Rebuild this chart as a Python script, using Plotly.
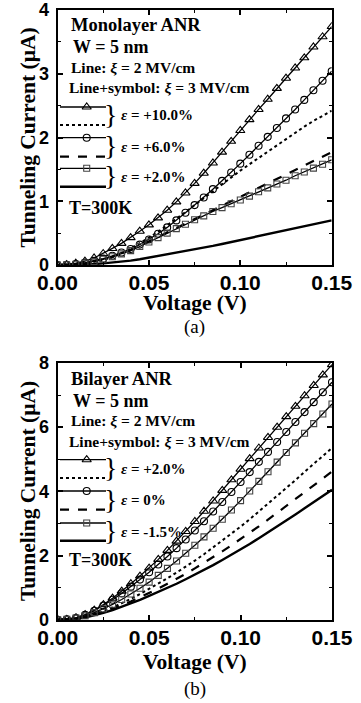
import plotly.graph_objects as go

# ---------------- data ----------------
voltage = [0.000, 0.005, 0.010, 0.015, 0.020, 0.025, 0.030, 0.035, 0.040, 0.045,
           0.050, 0.055, 0.060, 0.065, 0.070, 0.075, 0.080, 0.085, 0.090, 0.095,
           0.100, 0.105, 0.110, 0.115, 0.120, 0.125, 0.130, 0.135, 0.140, 0.145, 0.150]

# (a) Monolayer ANR, current in uA
mono_e10_f3 = [0.0, 0.005, 0.028, 0.06, 0.11, 0.18, 0.26, 0.34, 0.43, 0.53,
               0.63, 0.74, 0.86, 0.99, 1.13, 1.28, 1.44, 1.60, 1.77, 1.94,
               2.11, 2.28, 2.44, 2.60, 2.77, 2.93, 3.09, 3.25, 3.42, 3.58, 3.74]
mono_e10_f2 = [0.0, 0.002, 0.01, 0.025, 0.05, 0.08, 0.12, 0.18, 0.26, 0.34,
               0.43, 0.52, 0.62, 0.72, 0.83, 0.94, 1.05, 1.15, 1.26, 1.37,
               1.48, 1.58, 1.68, 1.78, 1.88, 1.98, 2.08, 2.17, 2.26, 2.34, 2.42]
mono_e6_f3 = [0.0, 0.003, 0.015, 0.035, 0.065, 0.10, 0.145, 0.195, 0.25, 0.32,
              0.40, 0.49, 0.59, 0.70, 0.82, 0.94, 1.06, 1.19, 1.32, 1.45,
              1.59, 1.73, 1.87, 2.01, 2.15, 2.30, 2.44, 2.59, 2.74, 2.89, 3.04]
mono_e6_f2 = [0.0, 0.003, 0.012, 0.03, 0.055, 0.09, 0.13, 0.18, 0.23, 0.30,
              0.37, 0.44, 0.52, 0.59, 0.66, 0.73, 0.80, 0.87, 0.94, 1.01,
              1.08, 1.15, 1.22, 1.29, 1.36, 1.43, 1.50, 1.57, 1.64, 1.70, 1.77]
mono_e2_f3 = [0.0, 0.003, 0.012, 0.03, 0.055, 0.09, 0.13, 0.175, 0.225, 0.29,
              0.36, 0.43, 0.50, 0.57, 0.64, 0.71, 0.77, 0.84, 0.90, 0.96,
              1.02, 1.08, 1.15, 1.21, 1.27, 1.33, 1.40, 1.46, 1.52, 1.58, 1.65]
mono_e2_f2 = [0.0, 0.001, 0.004, 0.008, 0.015, 0.025, 0.037, 0.05, 0.068, 0.09,
              0.115, 0.14, 0.165, 0.19, 0.215, 0.24, 0.27, 0.30, 0.33, 0.36,
              0.39, 0.42, 0.45, 0.48, 0.51, 0.55, 0.58, 0.61, 0.64, 0.67, 0.70]

# (b) Bilayer ANR, current in uA
bi_e2_f3 = [0.0, 0.01, 0.06, 0.16, 0.30, 0.47, 0.67, 0.89, 1.12, 1.36,
            1.61, 1.88, 2.16, 2.45, 2.75, 3.06, 3.38, 3.70, 4.03, 4.36,
            4.69, 5.02, 5.35, 5.68, 6.00, 6.33, 6.65, 6.98, 7.30, 7.63, 7.95]
bi_e2_f2 = [0.0, 0.01, 0.04, 0.09, 0.17, 0.27, 0.38, 0.51, 0.65, 0.80,
            0.96, 1.12, 1.29, 1.47, 1.65, 1.84, 2.04, 2.25, 2.46, 2.68,
            2.90, 3.13, 3.37, 3.61, 3.86, 4.11, 4.35, 4.61, 4.86, 5.11, 5.35]
bi_e0_f3 = [0.0, 0.01, 0.055, 0.15, 0.28, 0.44, 0.62, 0.82, 1.03, 1.25,
            1.48, 1.72, 1.97, 2.23, 2.50, 2.78, 3.07, 3.37, 3.67, 3.98,
            4.29, 4.60, 4.92, 5.23, 5.54, 5.85, 6.16, 6.47, 6.78, 7.09, 7.40]
bi_e0_f2 = [0.0, 0.008, 0.033, 0.08, 0.15, 0.24, 0.34, 0.45, 0.57, 0.70,
            0.83, 0.97, 1.12, 1.27, 1.43, 1.60, 1.77, 1.95, 2.13, 2.32,
            2.51, 2.71, 2.91, 3.12, 3.33, 3.54, 3.76, 3.97, 4.19, 4.40, 4.62]
bi_em15_f3 = [0.0, 0.01, 0.05, 0.12, 0.22, 0.34, 0.48, 0.63, 0.80, 0.98,
              1.17, 1.38, 1.60, 1.83, 2.07, 2.32, 2.58, 2.85, 3.13, 3.42,
              3.71, 4.01, 4.31, 4.61, 4.91, 5.21, 5.51, 5.81, 6.11, 6.41, 6.72]
bi_em15_f2 = [0.0, 0.007, 0.03, 0.07, 0.13, 0.21, 0.30, 0.40, 0.51, 0.62,
              0.74, 0.86, 0.99, 1.12, 1.26, 1.40, 1.55, 1.70, 1.86, 2.02,
              2.19, 2.36, 2.54, 2.72, 2.91, 3.09, 3.28, 3.47, 3.66, 3.86, 4.05]

x_ticks = [0.0, 0.05, 0.10, 0.15]
x_ticktext = ["0.00", "0.05", "0.10", "0.15"]

mono_strain_labels = ["+10.0%", "+6.0%", "+2.0%"]
bi_strain_labels = ["+2.0%", "0%", "-1.5%"]

# ---------------- styling ----------------
W, H = 361, 703
SANS = "Liberation Sans, Arial, sans-serif"
SERIF = "Liberation Serif, Times New Roman, serif"


def px(x):
    return x / W


def py(y):
    return 1 - y / H


SYMBOL_STYLES = [
    dict(symbol="triangle-up-open", size=8, color="black"),
    dict(symbol="circle-open", size=7, color="black"),
    dict(symbol="square-open", size=6, color="#444"),
]
PLAIN_STYLES = [
    dict(dash="dot", width=2.0),
    dict(dash="dash", width=2.2),
    dict(dash="solid", width=2.4),
]

fig = go.Figure()


def add_panel(xa, ya, sym_series, plain_series):
    for s, st in zip(plain_series, PLAIN_STYLES):
        fig.add_trace(go.Scatter(
            x=voltage, y=s, mode="lines", xaxis=xa, yaxis=ya,
            line=dict(color="black", width=st["width"], dash=st["dash"]),
            showlegend=False, hoverinfo="skip"))
    for s, st in zip(sym_series, SYMBOL_STYLES):
        fig.add_trace(go.Scatter(
            x=voltage, y=s, mode="lines+markers", xaxis=xa, yaxis=ya,
            line=dict(color="black", width=1.3),
            marker=dict(symbol=st["symbol"], size=st["size"],
                        color=st["color"], line=dict(width=1.1, color=st["color"])),
            showlegend=False, hoverinfo="skip"))


add_panel("x", "y", [mono_e10_f3, mono_e6_f3, mono_e2_f3],
          [mono_e10_f2, mono_e6_f2, mono_e2_f2])
add_panel("x2", "y2", [bi_e2_f3, bi_e0_f3, bi_em15_f3],
          [bi_e2_f2, bi_e0_f2, bi_em15_f2])

# legend key drawn on a full-page overlay axis measured in pixels
KEY_X0, KEY_X1, KEY_XM = 60, 106, 86.7


def add_key(rows):
    for (y_sym, y_plain, _), sst, pst in zip(rows, SYMBOL_STYLES, PLAIN_STYLES):
        fig.add_trace(go.Scatter(
            x=[KEY_X0, KEY_X1], y=[y_sym, y_sym], mode="lines",
            xaxis="x3", yaxis="y3", line=dict(color="black", width=1.3),
            showlegend=False, hoverinfo="skip"))
        fig.add_trace(go.Scatter(
            x=[KEY_XM], y=[y_sym], mode="markers", xaxis="x3", yaxis="y3",
            marker=dict(symbol=sst["symbol"], size=sst["size"], color=sst["color"],
                        line=dict(width=1.1, color=sst["color"])),
            showlegend=False, hoverinfo="skip"))
        fig.add_trace(go.Scatter(
            x=[KEY_X0, KEY_X1], y=[y_plain, y_plain], mode="lines",
            xaxis="x3", yaxis="y3",
            line=dict(color="black", width=pst["width"], dash=pst["dash"]),
            showlegend=False, hoverinfo="skip"))


rows_a = [(107, 125, 115.5), (137.7, 156.7, 147), (168.3, 186.7, 177)]
rows_b = [(459.7, 478, 468.5), (491, 509.7, 500), (523, 540.7, 531.5)]
add_key(rows_a)
add_key(rows_b)

annotations = []


def text(x, y, s, size, family=SERIF, bold=True, xanchor="left", angle=0):
    annotations.append(dict(
        x=px(x), y=py(y), xref="paper", yref="paper", text=s, showarrow=False,
        xanchor=xanchor, yanchor="middle", textangle=angle,
        font=dict(family=family, size=size, color="black",
                  weight="bold" if bold else "normal")))


def panel_text(top, title, rows, labels, t_y):
    text(69, top + 15.5, title, 18.5)
    text(71, top + 37.5, "W = 5 nm", 18)
    text(69, top + 57, "Line: <i>ξ</i> = 2 MV/cm", 15.5)
    text(67, top + 78, "Line+symbol: <i>ξ</i> = 3 MV/cm", 15.5)
    for (_, _, yt), lab in zip(rows, labels):
        text(119, yt - 1, "}", 28, bold=False, xanchor="right")
        text(119, yt, "<i>ε</i> = " + lab, 15)
    text(67, t_y, "T=300K", 18)


panel_text(10, "Monolayer ANR", rows_a, mono_strain_labels, 208)
panel_text(363, "Bilayer ANR", rows_b, bi_strain_labels, 560)

# axis titles and panel captions
text(194.6, 303, "Voltage (V)", 21.5, xanchor="center")
text(194.6, 662, "Voltage (V)", 21.5, xanchor="center")
text(28, 137.5, "Tunneling Current (µA)", 21.5, xanchor="center", angle=-90)
text(28, 491, "Tunneling Current (µA)", 21.5, xanchor="center", angle=-90)
text(194.6, 327, "(a)", 19, bold=False, xanchor="center")
text(194.6, 689, "(b)", 19, bold=False, xanchor="center")

common_axis = dict(
    showline=True, linewidth=2, linecolor="black", mirror="ticks",
    ticks="inside", ticklen=5, tickwidth=1.5, tickcolor="black",
    showgrid=False, zeroline=False, automargin=False,
)

xa = dict(common_axis, range=[0, 0.15], tickvals=x_ticks, ticktext=x_ticktext,
          ticklabelstandoff=-2,
          tickfont=dict(family=SANS, size=21, color="black", weight="bold"),
          minor=dict(ticks="inside", ticklen=3, tickwidth=1.2, dtick=0.025,
                     tickcolor="black"))
ya_font = dict(family=SANS, size=18, color="black", weight="bold")

fig.update_layout(
    template="none",
    width=W, height=H, margin=dict(l=0, r=0, t=0, b=0, autoexpand=False),
    paper_bgcolor="white", plot_bgcolor="rgba(0,0,0,0)",
    xaxis=dict(xa, domain=[px(57.5), px(331.7)], anchor="y"),
    yaxis=dict(common_axis, domain=[py(265), py(10)], anchor="x",
               range=[0, 4], dtick=1, tick0=0, ticklabelstandoff=3,
               tickfont=ya_font,
               minor=dict(ticks="inside", ticklen=3, tickwidth=1.2, dtick=0.5,
                          tickcolor="black")),
    xaxis2=dict(xa, domain=[px(57.7), px(332)], anchor="y2"),
    yaxis2=dict(common_axis, domain=[py(619.7), py(363)], anchor="x2",
                range=[0, 8], dtick=2, tick0=0, ticklabelstandoff=3,
                tickfont=ya_font,
                minor=dict(ticks="inside", ticklen=3, tickwidth=1.2, dtick=1,
                           tickcolor="black")),
    xaxis3=dict(domain=[0, 1], range=[0, W], visible=False, anchor="y3",
                fixedrange=True, automargin=False),
    yaxis3=dict(domain=[0, 1], range=[H, 0], visible=False, anchor="x3",
                fixedrange=True, automargin=False),
    annotations=annotations,
    showlegend=False,
)

fig.write_html("out.html")
